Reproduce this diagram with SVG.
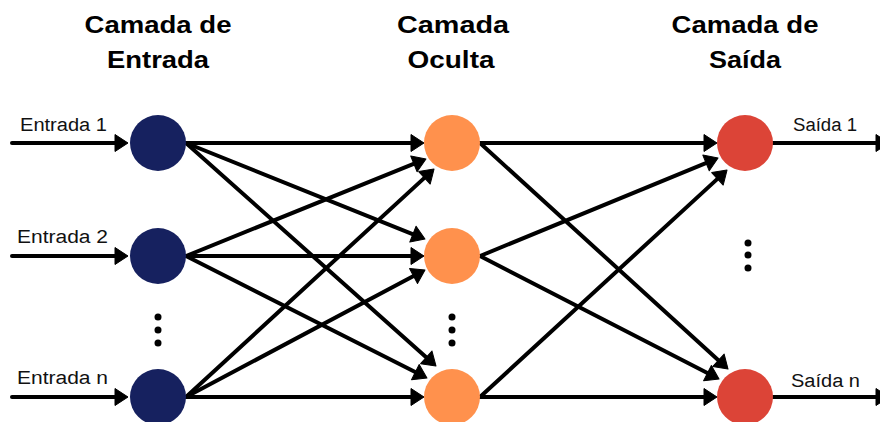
<svg xmlns="http://www.w3.org/2000/svg" width="880" height="422" viewBox="0 0 880 422">
  <style>
    .title { font-family: "Liberation Sans", Arial, sans-serif; font-weight: bold; font-size: 24px; fill: #000; text-anchor: middle; }
    .label { font-family: "Liberation Sans", Arial, sans-serif; font-size: 18px; fill: #111; }
    .edge { stroke: #000; stroke-width: 4; stroke-linecap: round; fill: none; marker-end: url(#arrow); }
    .in { fill: #16215f; }
    .hid { fill: #ff914d; }
    .out { fill: #dc4437; }
    .dot { fill: #000; }
  </style>
  <defs>
    <marker id="arrow" markerUnits="userSpaceOnUse" markerWidth="16" markerHeight="20" refX="7" refY="8.5" orient="auto" overflow="visible">
      <path d="M0,0 L13,8.5 L0,17 Z" fill="#000" stroke="#000" stroke-width="1" stroke-linejoin="round"/>
    </marker>
  </defs>
  <rect width="880" height="422" fill="#fff"/>

  <!-- layer titles -->
  <g id="titles">
    <text class="title" x="158" y="33" textLength="147" lengthAdjust="spacingAndGlyphs">Camada de</text>
    <text class="title" x="158" y="68" textLength="102" lengthAdjust="spacingAndGlyphs">Entrada</text>
    <text class="title" x="453" y="33" textLength="112" lengthAdjust="spacingAndGlyphs">Camada</text>
    <text class="title" x="451" y="68" textLength="87" lengthAdjust="spacingAndGlyphs">Oculta</text>
    <text class="title" x="745" y="33" textLength="147" lengthAdjust="spacingAndGlyphs">Camada de</text>
    <text class="title" x="745" y="68" textLength="72" lengthAdjust="spacingAndGlyphs">Saída</text>
  </g>

  <!-- connectors -->
  <g id="connectors">
    <!-- inputs -->
    <line class="edge" x1="12" y1="143" x2="122" y2="143"/>
    <line class="edge" x1="12" y1="256" x2="122" y2="256"/>
    <line class="edge" x1="12" y1="397" x2="122" y2="397"/>
    <!-- input layer to hidden layer -->
    <line class="edge" x1="186" y1="143" x2="418" y2="143"/>
    <line class="edge" x1="186" y1="143" x2="419.4" y2="236.8"/>
    <line class="edge" x1="186" y1="143" x2="431.5" y2="362"/>
    <line class="edge" x1="186" y1="256" x2="420.4" y2="161.2"/>
    <line class="edge" x1="186" y1="256" x2="418" y2="256"/>
    <line class="edge" x1="186" y1="256" x2="421.6" y2="375.3"/>
    <line class="edge" x1="186" y1="397" x2="429.6" y2="173.1"/>
    <line class="edge" x1="186" y1="397" x2="419.7" y2="272.8"/>
    <line class="edge" x1="186" y1="397" x2="418" y2="397"/>
    <!-- hidden layer to output layer -->
    <line class="edge" x1="480" y1="143" x2="711" y2="143"/>
    <line class="edge" x1="480" y1="256" x2="712.5" y2="160.3"/>
    <line class="edge" x1="480" y1="397" x2="722.6" y2="174.1"/>
    <line class="edge" x1="480" y1="143" x2="723.6" y2="365"/>
    <line class="edge" x1="480" y1="256" x2="713.7" y2="376.3"/>
    <line class="edge" x1="480" y1="397" x2="711" y2="397"/>
    <!-- outputs -->
    <line class="edge" x1="773" y1="143" x2="883" y2="143"/>
    <line class="edge" x1="773" y1="397" x2="883" y2="397"/>
  </g>

  <!-- input layer -->
  <g id="input-1">
    <circle class="in" cx="158" cy="143" r="28"/>
    <text class="label" x="20" y="131" textLength="87" lengthAdjust="spacingAndGlyphs">Entrada 1</text>
  </g>
  <g id="input-2">
    <circle class="in" cx="158" cy="256" r="28"/>
    <text class="label" x="17" y="243" textLength="91" lengthAdjust="spacingAndGlyphs">Entrada 2</text>
  </g>
  <g id="input-ellipsis">
    <circle class="dot" cx="158" cy="317" r="3.5"/>
    <circle class="dot" cx="158" cy="330" r="3.5"/>
    <circle class="dot" cx="158" cy="343" r="3.5"/>
  </g>
  <g id="input-n">
    <circle class="in" cx="158" cy="397" r="28"/>
    <text class="label" x="17" y="384" textLength="91" lengthAdjust="spacingAndGlyphs">Entrada n</text>
  </g>

  <!-- hidden layer -->
  <g id="hidden-1">
    <circle class="hid" cx="452" cy="143" r="28"/>
  </g>
  <g id="hidden-2">
    <circle class="hid" cx="452" cy="256" r="28"/>
  </g>
  <g id="hidden-ellipsis">
    <circle class="dot" cx="452" cy="317" r="3.5"/>
    <circle class="dot" cx="452" cy="330" r="3.5"/>
    <circle class="dot" cx="452" cy="343" r="3.5"/>
  </g>
  <g id="hidden-n">
    <circle class="hid" cx="452" cy="397" r="28"/>
  </g>

  <!-- output layer -->
  <g id="output-1">
    <circle class="out" cx="745" cy="143" r="28"/>
    <text class="label" x="793" y="131" textLength="64" lengthAdjust="spacingAndGlyphs">Saída 1</text>
  </g>
  <g id="output-ellipsis">
    <circle class="dot" cx="748" cy="243" r="3.5"/>
    <circle class="dot" cx="748" cy="255" r="3.5"/>
    <circle class="dot" cx="748" cy="268" r="3.5"/>
  </g>
  <g id="output-n">
    <circle class="out" cx="745" cy="397" r="28"/>
    <text class="label" x="791" y="387" textLength="69" lengthAdjust="spacingAndGlyphs">Saída n</text>
  </g>
</svg>
